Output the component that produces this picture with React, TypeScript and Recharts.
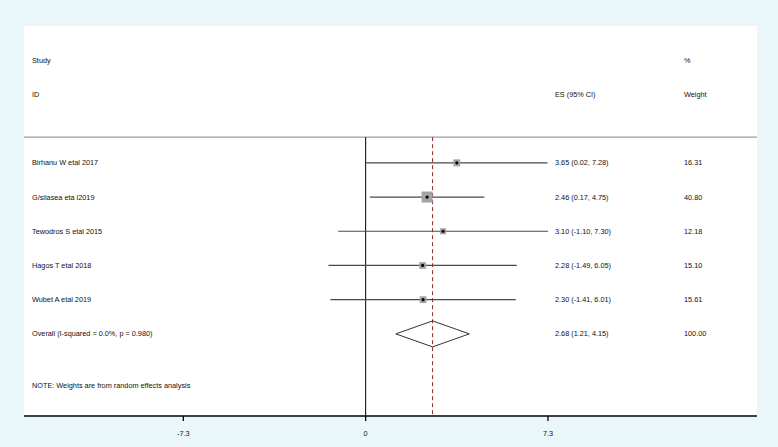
import {
  ComposedChart,
  Scatter,
  XAxis,
  YAxis,
  CartesianGrid,
  ReferenceLine,
  ErrorBar,
} from 'recharts';

const studies = [
  'Birhanu W etal 2017',
  'G/silasea eta l2019',
  'Tewodros S etal 2015',
  'Hagos T etal 2018',
  'Wubet A etal 2019',
];
const esValues = [3.65, 2.46, 3.1, 2.28, 2.3];
const ciLow = [0.02, 0.17, -1.1, -1.49, -1.41];
const ciHigh = [7.28, 4.75, 7.3, 6.05, 6.01];
const weights = [16.31, 40.8, 12.18, 15.1, 15.61];

const overallLabel = 'Overall  (I-squared = 0.0%, p = 0.980)';
const overallEs = 2.68;
const overallLow = 1.21;
const overallHigh = 4.15;
const overallWeight = 100.0;

const noteText = 'NOTE: Weights are from random effects analysis';
const xTicks = [-7.3, 0, 7.3];

const FONT = '"Liberation Sans", Arial, sans-serif';
const COL_STUDY = 32;
const COL_ES = 555;
const COL_W = 684;

// row layout (y units = table rows)
const Y_TOP = -4;
const Y_AXIS = 7.4;
const Y_SEP = -0.75;

const fmt = (v: number) => v.toFixed(2);

// study rows sit at y = 0..4, overall at 5, headers above, note below
const studyData = studies.map((name, i) => ({
  x: esValues[i],
  y: i,
  w: weights[i],
  err: [esValues[i] - ciLow[i], ciHigh[i] - esValues[i]],
}));

const diamondData = [
  { x: overallLow, y: 5 },
  { x: overallEs, y: 4.62 },
  { x: overallHigh, y: 5 },
  { x: overallEs, y: 5.38 },
  { x: overallLow, y: 5 },
];

const tableRows = [
  { x: 0, y: -3, a: 'Study', b: '', c: '%' },
  { x: 0, y: -2, a: 'ID', b: 'ES (95% CI)', c: 'Weight' },
  ...studies.map((name, i) => ({
    x: 0,
    y: i,
    a: name,
    b: `${fmt(esValues[i])} (${fmt(ciLow[i])}, ${fmt(ciHigh[i])})`,
    c: fmt(weights[i]),
  })),
  {
    x: 0,
    y: 5,
    a: overallLabel,
    b: `${fmt(overallEs)} (${fmt(overallLow)}, ${fmt(overallHigh)})`,
    c: fmt(overallWeight),
  },
  { x: 0, y: 6.5, a: noteText, b: '', c: '' },
];

function Cell({ x, y, children }: { x: number; y: number; children: string }) {
  return (
    <text
      x={x}
      y={y}
      dominantBaseline="central"
      fill="#111111"
      stroke="none"
      fontFamily={FONT}
      fontSize={7.3}
    >
      {children}
    </text>
  );
}

function TableRow(props: any) {
  const { cy, payload } = props;
  return (
    <g>
      <Cell x={COL_STUDY} y={cy}>{payload.a}</Cell>
      <Cell x={COL_ES} y={cy}>{payload.b}</Cell>
      <Cell x={COL_W} y={cy}>{payload.c}</Cell>
    </g>
  );
}

function WeightBox(props: any) {
  const { cx, cy, payload } = props;
  // box area proportional to study weight
  const side = 11 * Math.sqrt(payload.w / 40.8);
  return (
    <g>
      <rect
        x={cx - side / 2}
        y={cy - side / 2}
        width={side}
        height={side}
        fill="#a3a3a3"
      />
      <circle cx={cx} cy={cy} r={1.6} fill="#000" />
    </g>
  );
}

export default function App() {
  return (
    <div
      style={{
        position: 'absolute',
        left: 0,
        top: 0,
        width: 778,
        height: 447,
        background: '#eaf7fa',
      }}
    >
      <ComposedChart
        width={778}
        height={447}
        margin={{ top: 26, right: 21, bottom: 0, left: 24 }}
      >
        <CartesianGrid horizontal={false} vertical={false} fill="#ffffff" />
        <XAxis
          type="number"
          dataKey="x"
          domain={[-13.68, 15.67]}
          ticks={xTicks}
          allowDataOverflow
          height={31}
          tickFormatter={(v) => String(v)}
          tick={{ fontFamily: FONT, fontSize: 7.3, fill: '#111' }}
          tickSize={5}
          tickMargin={10}
          axisLine={{ stroke: '#000', strokeWidth: 1.3 }}
          tickLine={{ stroke: '#000', strokeWidth: 1.3 }}
        />
        <YAxis type="number" dataKey="y" domain={[Y_TOP, Y_AXIS]} reversed hide />
        <ReferenceLine y={Y_SEP} stroke="#a0a0a0" strokeWidth={1.2} />
        <ReferenceLine
          segment={[
            { x: 0, y: Y_SEP },
            { x: 0, y: Y_AXIS },
          ]}
          stroke="#000"
          strokeWidth={1}
        />
        <ReferenceLine
          segment={[
            { x: overallEs, y: Y_SEP },
            { x: overallEs, y: Y_AXIS },
          ]}
          stroke="#8b2a2a"
          strokeWidth={1}
          strokeDasharray="4 3"
        />
        <Scatter
          data={studyData}
          shape={WeightBox}
          isAnimationActive={false}
        >
          <ErrorBar
            dataKey="err"
            direction="x"
            width={0}
            stroke="#4a4a4a"
            strokeWidth={1.2}
            isAnimationActive={false}
          />
        </Scatter>
        <Scatter
          data={diamondData}
          line={{ stroke: '#333', strokeWidth: 1 }}
          lineType="joint"
          shape={() => null}
          isAnimationActive={false}
        />
        <Scatter data={tableRows} shape={TableRow} isAnimationActive={false} />
      </ComposedChart>
    </div>
  );
}
